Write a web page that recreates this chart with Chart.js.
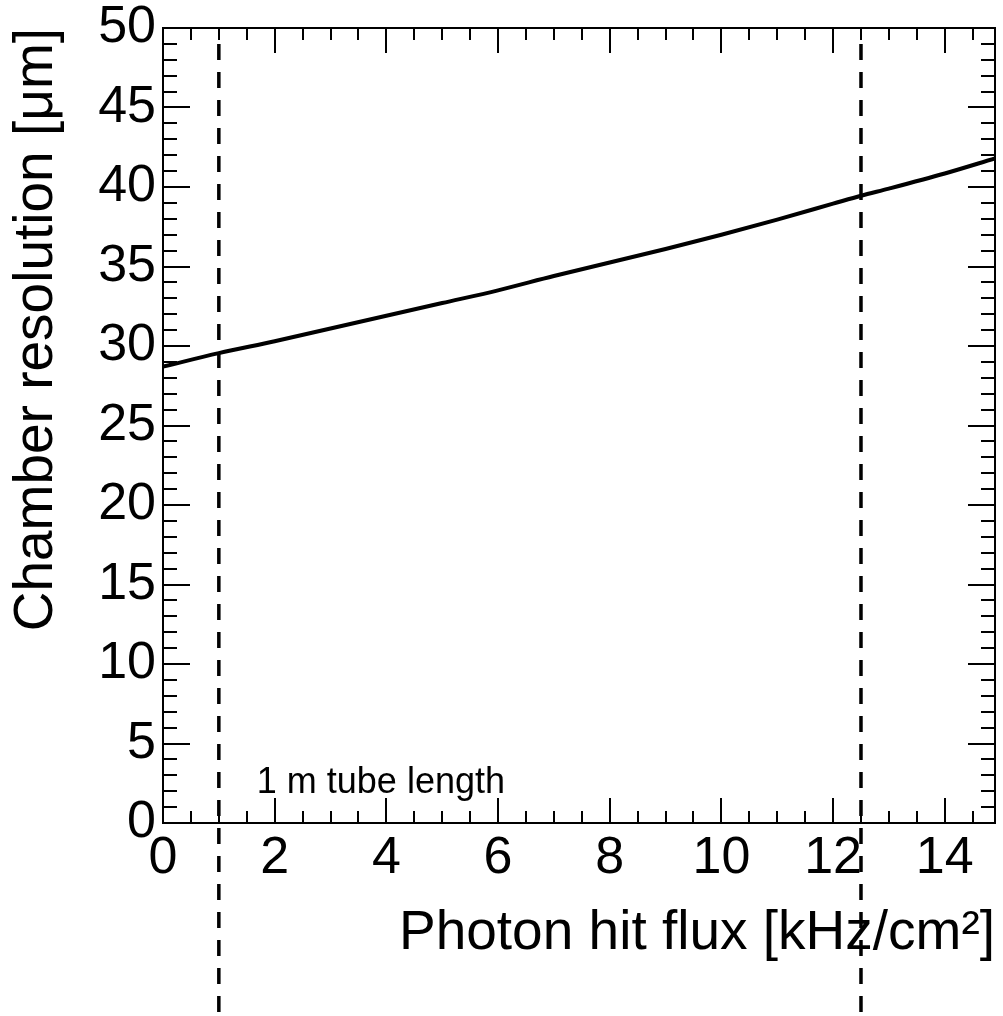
<!DOCTYPE html>
<html>
<head>
<meta charset="utf-8">
<script src="https://cdn.jsdelivr.net/npm/chart.js@4.4.1/dist/chart.umd.min.js"></script>
<style>
  html, body { margin: 0; padding: 0; background: #fff; }
</style>
</head>
<body>
<canvas id="resChart" width="1003" height="1016"></canvas>
<script>
// Chamber resolution vs photon hit flux
const fluxValues = [0, 1, 2, 3, 4, 5, 6, 7, 8, 9, 10, 11, 12, 12.5, 13, 14, 14.9];
const resolutionValues = [28.7, 29.55, 30.3, 31.1, 31.9, 32.7, 33.5, 34.4, 35.25, 36.1, 37.0, 37.95, 38.95, 39.45, 39.9, 40.85, 41.8];

const xTickValues = [0, 2, 4, 6, 8, 10, 12, 14];
const yTickValues = [0, 5, 10, 15, 20, 25, 30, 35, 40, 45, 50];

// dashed reference lines (flux values) and their vertical extent
const markerFlux = [1, 12.5];
const markerSpan = [49, -13];

const noteText = '1 m tube length';
const noteAt = [1.68, 1.9];

const FONT = '"Liberation Sans", Arial, Helvetica, sans-serif';

// ROOT style frame with inward ticks on all four sides
const rootFrame = {
    id: 'rootFrame',
    beforeDatasetsDraw(chart) {
        const { ctx, chartArea: a, scales: { x, y } } = chart;
        ctx.save();
        ctx.strokeStyle = '#000';
        ctx.lineWidth = 2;
        ctx.strokeRect(a.left, a.top, a.right - a.left, a.bottom - a.top);

        ctx.beginPath();
        for (let i = 0; i * 0.5 <= x.max + 1e-9; i++) {
            const v = i * 0.5;
            const px = Math.round(x.getPixelForValue(v));
            const len = v % 2 === 0 ? 25 : 12;
            ctx.moveTo(px, a.bottom); ctx.lineTo(px, a.bottom - len);
            ctx.moveTo(px, a.top); ctx.lineTo(px, a.top + len);
        }
        for (let v = 0; v <= y.max; v++) {
            const py = Math.round(y.getPixelForValue(v));
            const len = v % 5 === 0 ? 27 : 14;
            ctx.moveTo(a.left, py); ctx.lineTo(a.left + len, py);
            ctx.moveTo(a.right, py); ctx.lineTo(a.right - len, py);
        }
        ctx.stroke();

        ctx.fillStyle = '#000';
        ctx.font = '36px ' + FONT;
        ctx.textBaseline = 'alphabetic';
        ctx.textAlign = 'left';
        ctx.fillText(noteText, x.getPixelForValue(noteAt[0]), y.getPixelForValue(noteAt[1]));
        ctx.restore();
    }
};

function noPad(s) {
    s.paddingTop = 0;
    s.paddingBottom = 0;
    s.paddingLeft = 0;
    s.paddingRight = 0;
}

const datasets = [{
    data: fluxValues.map((f, i) => ({ x: f, y: resolutionValues[i] })),
    borderColor: '#000',
    borderWidth: 4,
    pointRadius: 0,
    cubicInterpolationMode: 'monotone',
    fill: false
}];
markerFlux.forEach(f => {
    datasets.push({
        data: markerSpan.map(v => ({ x: f, y: v })),
        borderColor: '#000',
        borderWidth: 3.5,
        borderDash: [16, 12],
        pointRadius: 0,
        fill: false,
        clip: false
    });
});

new Chart(document.getElementById('resChart'), {
    type: 'line',
    data: { datasets: datasets },
    options: {
        responsive: false,
        animation: false,
        devicePixelRatio: 1,
        layout: { padding: { top: 28, right: 8, left: 0, bottom: 0 } },
        scales: {
            x: {
                type: 'linear',
                min: 0,
                max: 14.9,
                afterBuildTicks: s => { s.ticks = xTickValues.map(v => ({ value: v })); },
                afterFit: s => { s.height = 193; noPad(s); },
                grid: { display: false, drawTicks: false },
                border: { display: false },
                ticks: {
                    color: '#000',
                    font: { family: FONT, size: 52 },
                    padding: 4,
                    maxRotation: 0,
                    autoSkip: false
                },
                title: {
                    display: true,
                    text: 'Photon hit flux [kHz/cm²]',
                    align: 'end',
                    color: '#000',
                    font: { family: FONT, size: 55 },
                    padding: { top: 0, bottom: 49 }
                }
            },
            y: {
                type: 'linear',
                min: 0,
                max: 50,
                afterBuildTicks: s => { s.ticks = yTickValues.map(v => ({ value: v })); },
                afterFit: s => { s.width = 163; noPad(s); },
                grid: { display: false, drawTicks: false },
                border: { display: false },
                ticks: {
                    color: '#000',
                    font: { family: FONT, size: 52 },
                    padding: 7,
                    autoSkip: false
                },
                title: {
                    display: true,
                    text: 'Chamber resolution [μm]',
                    align: 'end',
                    color: '#000',
                    font: { family: FONT, size: 55 },
                    padding: { top: 4, bottom: 0 }
                }
            }
        },
        plugins: {
            legend: { display: false },
            tooltip: { enabled: false }
        }
    },
    plugins: [rootFrame]
});
</script>
</body>
</html>
